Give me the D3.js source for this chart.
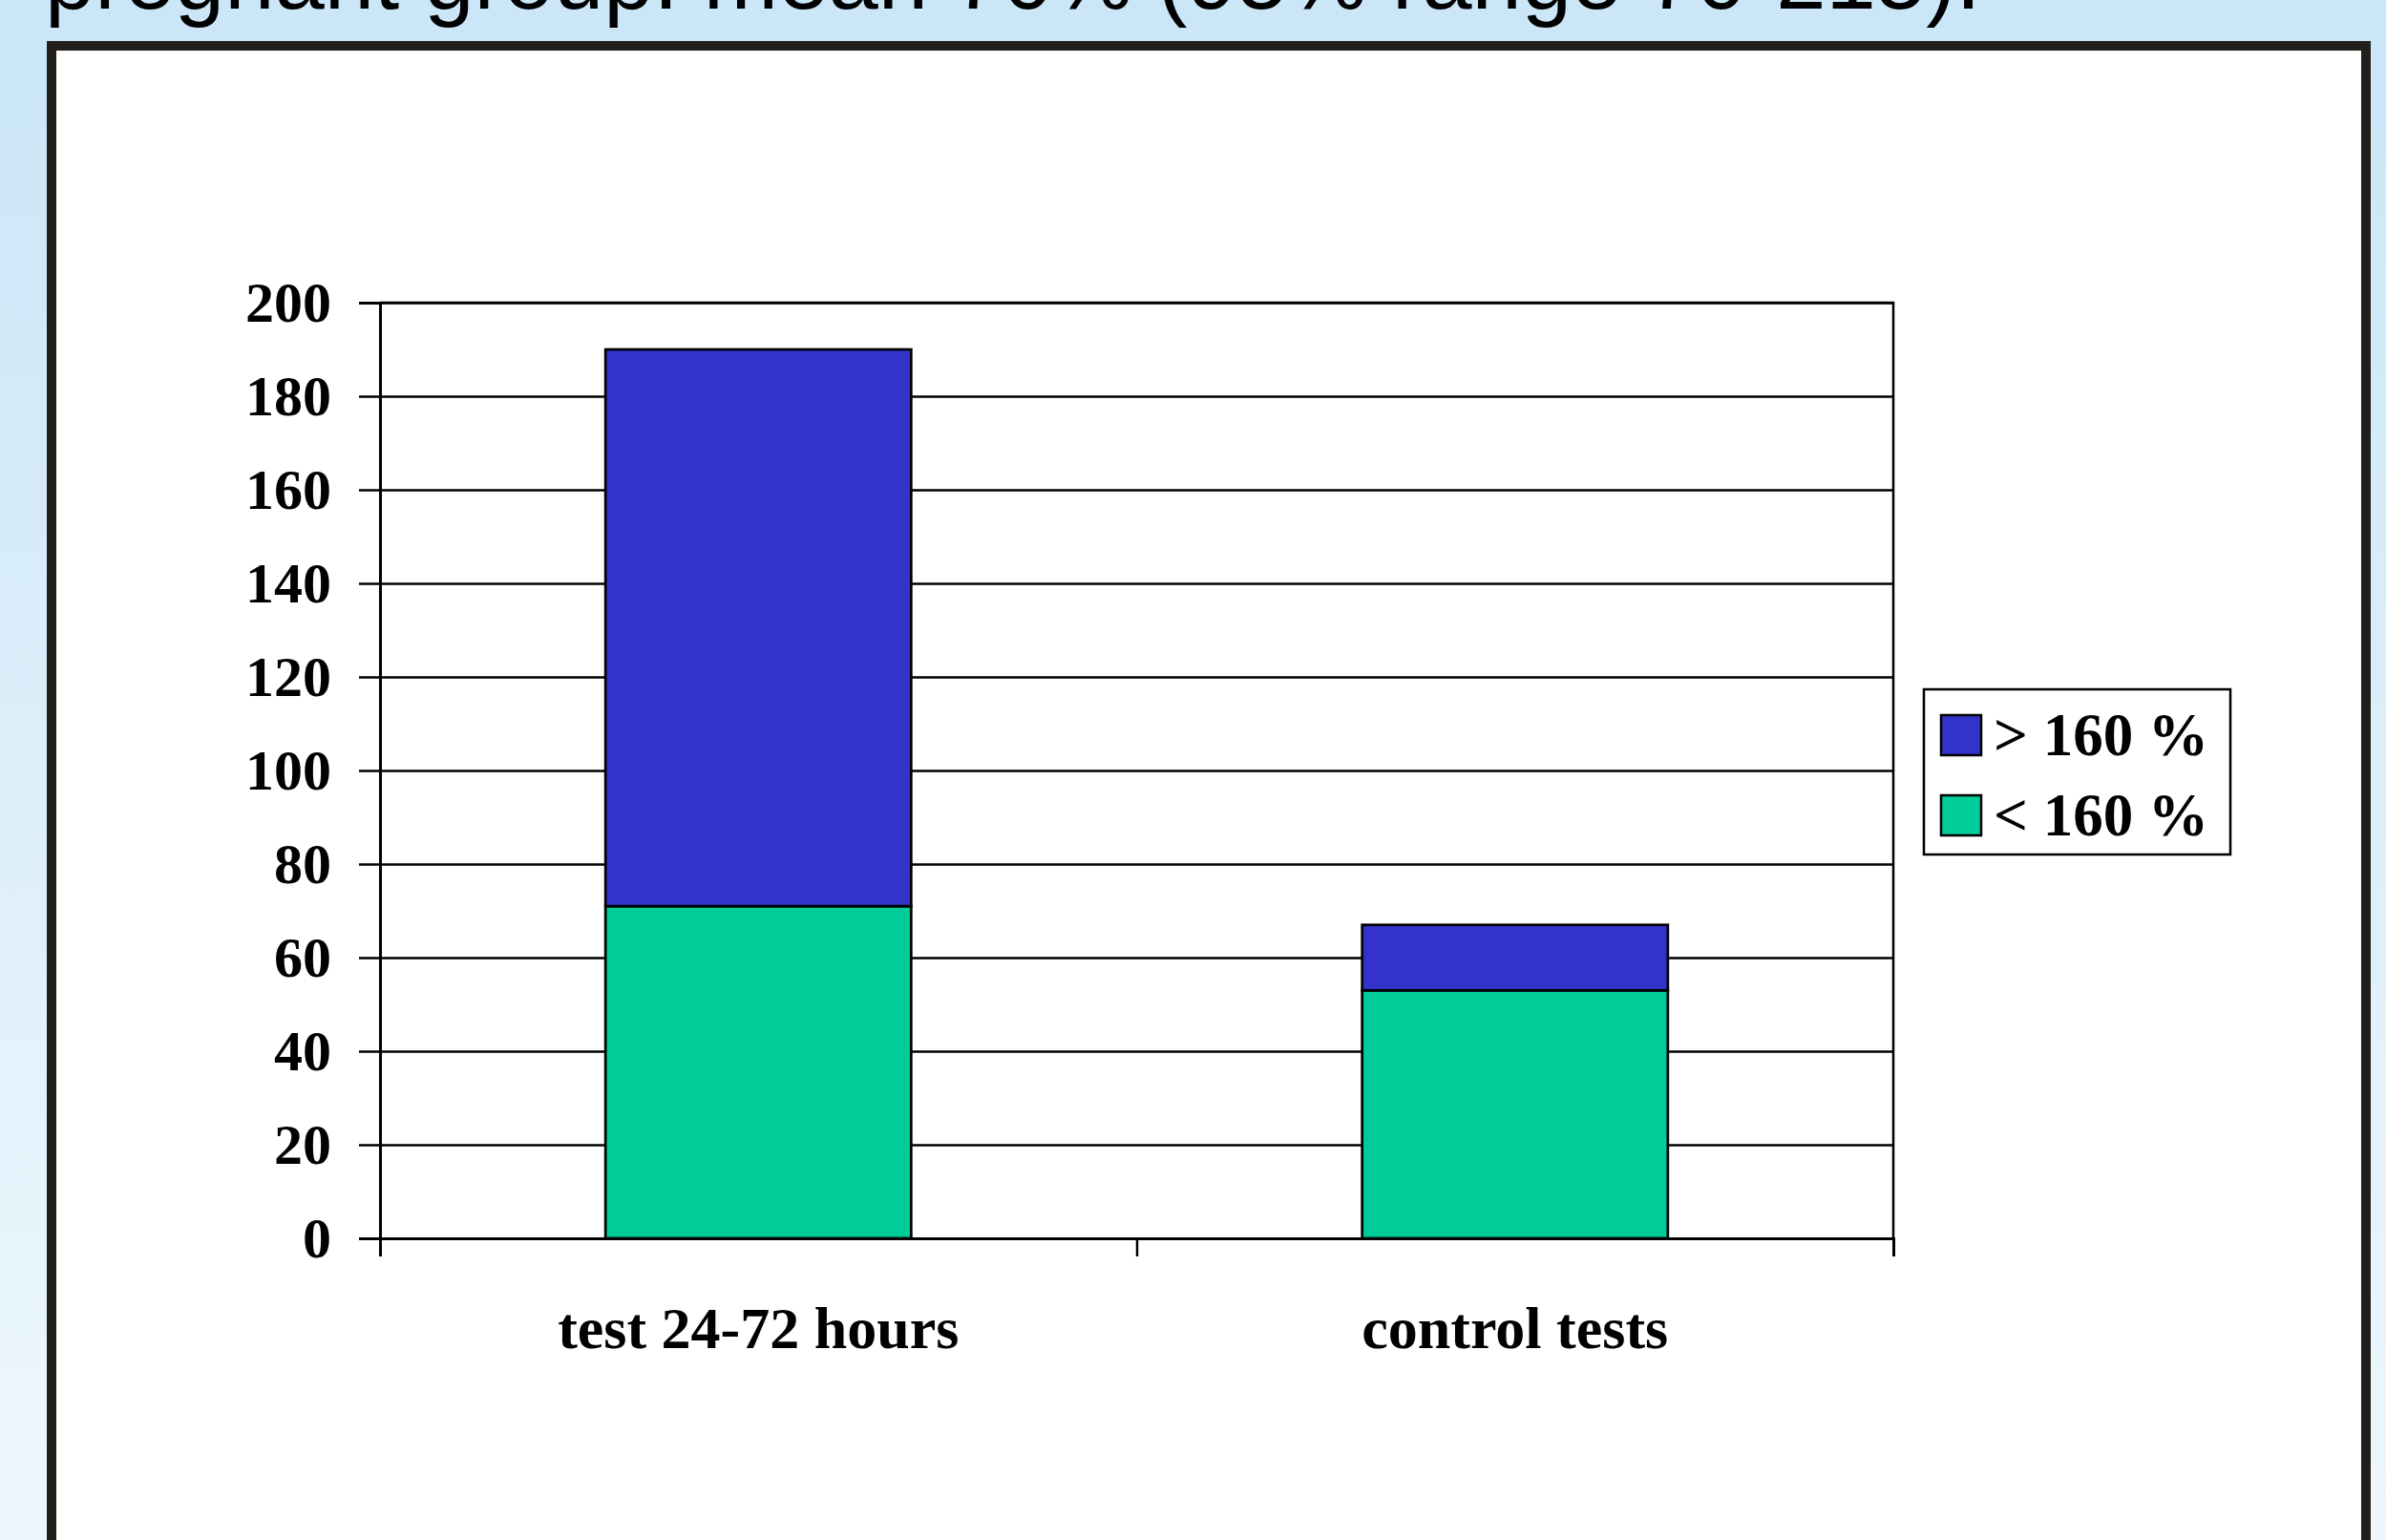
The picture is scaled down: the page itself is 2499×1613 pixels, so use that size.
<!DOCTYPE html>
<html>
<head>
<meta charset="utf-8">
<script src="https://cdn.jsdelivr.net/npm/d3@7"></script>
<style>
  html, body { margin: 0; padding: 0; }
  body { width: 2499px; height: 1613px; overflow: hidden; }
</style>
</head>
<body>
<div id="chart"></div>
<script>
// Chart data
const categories = ["test 24-72 hours", "control tests"];
const below160 = [71, 53];
const above160 = [119, 14];
const seriesNames = ["> 160 %", "< 160 %"];
const seriesColors = ["#3333cc", "#00cc99"];
const yTicks = [0, 20, 40, 60, 80, 100, 120, 140, 160, 180, 200];
const titleText = "pregnant group: mean 70% (95% range 70-215).";

const W = 2499, H = 1613;

const svg = d3.select("#chart")
    .append("svg")
    .attr("width", W)
    .attr("height", H);

// Slide background
const grad = svg.append("defs").append("linearGradient")
    .attr("id", "bg")
    .attr("x1", 0).attr("y1", 0).attr("x2", 0).attr("y2", 1);
grad.append("stop").attr("offset", "0%").attr("stop-color", "#cae6f7");
grad.append("stop").attr("offset", "100%").attr("stop-color", "#eef7fd");

svg.append("rect")
    .attr("width", W).attr("height", H)
    .attr("fill", "url(#bg)");

// Title text, cut off at the top of the slide (as in the slide)
svg.append("text")
    .attr("x", 47)
    .attr("y", 9)
    .style("font-family", "'Liberation Sans', Arial, sans-serif")
    .style("font-size", "94px")
    .attr("fill", "#000")
    .text(titleText);

// Chart frame
svg.append("rect")
    .attr("x", 54).attr("y", 48)
    .attr("width", 2424).attr("height", 1700)
    .attr("fill", "#fff")
    .attr("stroke", "#221e1a")
    .attr("stroke-width", 10);

// Plot area
const margin = {top: 317, left: 398},
    width = 1983 - 398,
    height = 1297 - 317;

const g = svg.append("g")
    .attr("transform", `translate(${margin.left},${margin.top})`);

const x = d3.scaleBand()
    .domain(categories)
    .range([0, width])
    .paddingInner(0.596)
    .paddingOuter(0.298);

const xEdge = d3.scaleLinear()
    .domain([0, categories.length])
    .range([0, width]);

const y = d3.scaleLinear()
    .domain([0, 200])
    .range([height, 0]);

const font = "'Liberation Serif', 'Times New Roman', serif";

// Gridlines
g.append("g")
    .call(d3.axisLeft(y).tickValues(yTicks).tickSize(-width).tickFormat(""))
    .call(s => s.select(".domain").remove())
    .call(s => s.selectAll("line").attr("stroke", "#000").attr("stroke-width", 2.5));

// Plot border (top and right)
g.append("path")
    .attr("d", `M0,0H${width}V${height}`)
    .attr("fill", "none")
    .attr("stroke", "#000")
    .attr("stroke-width", 2.5);

// Stacked bars
const rows = categories.map((c, i) => ({cat: c, below: below160[i], above: above160[i]}));
const stack = d3.stack().keys(["below", "above"])(rows);
const colorFor = {below: seriesColors[1], above: seriesColors[0]};

g.selectAll(".layer")
    .data(stack)
    .join("g")
    .attr("class", "layer")
    .attr("fill", d => colorFor[d.key])
    .selectAll("rect")
    .data(d => d)
    .join("rect")
    .attr("x", d => x(d.data.cat))
    .attr("width", x.bandwidth())
    .attr("y", d => y(d[1]))
    .attr("height", d => y(d[0]) - y(d[1]))
    .attr("stroke", "#000")
    .attr("stroke-width", 2.7);

// Y axis
g.append("g")
    .call(d3.axisLeft(y).tickValues(yTicks).tickSize(22).tickPadding(29))
    .call(s => s.select(".domain").attr("stroke-width", 3))
    .call(s => s.selectAll("line").attr("stroke-width", 2.5))
    .call(s => s.selectAll("text")
        .style("font-family", font)
        .style("font-size", "60px")
        .style("font-weight", "bold")
        .attr("fill", "#000"));

// X axis tick marks at category boundaries
g.append("g")
    .attr("transform", `translate(0,${height})`)
    .call(d3.axisBottom(xEdge).tickValues(d3.range(categories.length + 1)).tickSize(19).tickFormat(""))
    .call(s => s.select(".domain").attr("stroke-width", 3))
    .call(s => s.selectAll("line").attr("stroke-width", 2.5));

// Category labels
g.selectAll(".cat-label")
    .data(categories)
    .join("text")
    .attr("class", "cat-label")
    .attr("x", d => x(d) + x.bandwidth() / 2)
    .attr("y", height + 115)
    .attr("text-anchor", "middle")
    .style("font-family", font)
    .style("font-size", "62px")
    .style("font-weight", "bold")
    .text(d => d);

// Legend
const legend = svg.append("g").attr("transform", "translate(2015,722)");

legend.append("rect")
    .attr("width", 321).attr("height", 173)
    .attr("fill", "#fff")
    .attr("stroke", "#000")
    .attr("stroke-width", 2.5);

const item = legend.selectAll(".item")
    .data(seriesNames)
    .join("g")
    .attr("class", "item")
    .attr("transform", (d, i) => `translate(0,${i * 84})`);

item.append("rect")
    .attr("x", 18).attr("y", 27)
    .attr("width", 42).attr("height", 42)
    .attr("fill", (d, i) => seriesColors[i])
    .attr("stroke", "#000")
    .attr("stroke-width", 2.5);

item.append("text")
    .attr("x", 73)
    .attr("y", 69)
    .style("font-family", font)
    .style("font-size", "63px")
    .style("font-weight", "bold")
    .text(d => d);
</script>
</body>
</html>
